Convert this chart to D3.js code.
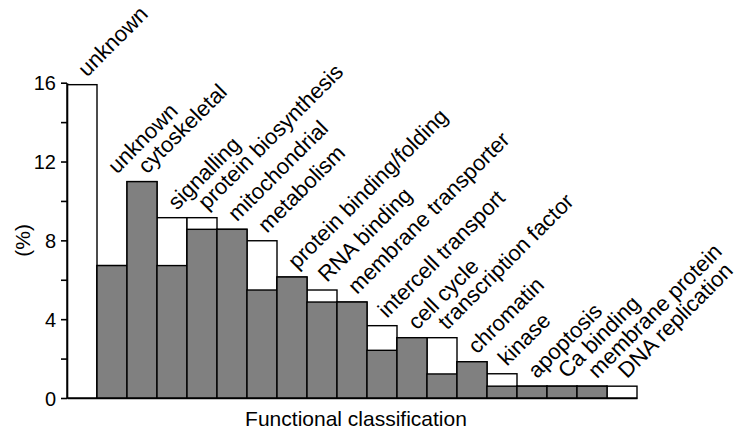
<!DOCTYPE html>
<html>
<head>
<meta charset="utf-8">
<script src="https://cdn.jsdelivr.net/npm/d3@7"></script>
<style>
  html, body { margin: 0; padding: 0; background: #fff; }
  svg { display: block; }
  text { font-family: "Liberation Sans", Arial, Helvetica, sans-serif; fill: #000; }
</style>
</head>
<body>
<svg id="chart" width="744" height="429"></svg>
<script>
// ---- data ----
const categories = ["unknown", "unknown", "cytoskeletal", "signalling", "protein biosynthesis",
  "mitochondrial", "metabolism", "protein binding/folding", "RNA binding", "membrane transporter",
  "intercell transport", "cell cycle", "transcription factor", "chromatin", "kinase",
  "apoptosis", "Ca binding", "membrane protein", "DNA replication"];
// white bars (total)
const totalValues = [15.9, 6.72, 10.98, 9.15, 9.15, 8.56, 7.98, 6.14, 5.48, 4.87,
  3.67, 3.06, 3.06, 1.84, 1.23, 0.6, 0.6, 0.6, 0.6];
// grey bars (subset)
const greyValues = [0, 6.72, 10.98, 6.72, 8.56, 8.56, 5.48, 6.14, 4.87, 4.87,
  2.42, 3.06, 1.22, 1.84, 0.6, 0.6, 0.6, 0.6, 0];
const yMajorTicks = [0, 4, 8, 12, 16];
const yMinorTicks = [2, 6, 10, 14];
const yLabel = "(%)";
const xLabel = "Functional classification";

// ---- layout ----
const svg = d3.select("#chart");
const mLeft = 67, mRight = 637, mTop = 82.7, mBottom = 398;

const x = d3.scaleBand().domain(d3.range(categories.length)).range([mLeft, mRight]).padding(0);
const y = d3.scaleLinear().domain([0, 16]).range([mBottom, mTop]);

// white (total) bars
svg.append("g").selectAll("rect").data(totalValues).join("rect")
  .attr("x", (d, i) => x(i))
  .attr("width", x.bandwidth())
  .attr("y", d => y(d))
  .attr("height", d => y(0) - y(d))
  .attr("fill", "#fff")
  .attr("stroke", "#000")
  .attr("stroke-width", 1.4);

// grey bars
svg.append("g").selectAll("rect").data(greyValues.map((v, i) => ({v, i})).filter(d => d.v > 0)).join("rect")
  .attr("x", d => x(d.i))
  .attr("width", x.bandwidth())
  .attr("y", d => y(d.v))
  .attr("height", d => y(0) - y(d.v))
  .attr("fill", "#808080")
  .attr("stroke", "#000")
  .attr("stroke-width", 1.4);

// y axis (major with labels)
const yAxisMajor = svg.append("g")
  .attr("transform", `translate(${mLeft},0)`)
  .call(d3.axisLeft(y).tickValues(yMajorTicks).tickSize(6).tickSizeOuter(0).tickPadding(5).tickFormat(d3.format("d")));
yAxisMajor.selectAll("text").style("font-size", "20px").attr("dy", "0.36em");
// y axis minor ticks
const yAxisMinor = svg.append("g")
  .attr("transform", `translate(${mLeft},0)`)
  .call(d3.axisLeft(y).tickValues(yMinorTicks).tickSize(6).tickSizeOuter(0).tickFormat(""));
yAxisMinor.select(".domain").remove();
svg.selectAll(".domain, .tick line").attr("stroke", "#000").attr("stroke-width", 1.6);

// x axis baseline
const xAxis = svg.append("g")
  .attr("transform", `translate(0,${mBottom})`)
  .call(d3.axisBottom(x).tickValues([]).tickSizeOuter(0));
xAxis.select(".domain").attr("stroke", "#000").attr("stroke-width", 1.6);

// category labels, rotated
svg.append("g").selectAll("text").data(categories).join("text")
  .attr("transform", (d, i) => {
    const h = Math.max(totalValues[i], i + 1 < totalValues.length ? totalValues[i + 1] : 0);
    const cx = x(i) + x.bandwidth() / 2 + 5;
    const cy = y(h) - 7;
    return `translate(${cx},${cy}) rotate(-45)`;
  })
  .attr("text-anchor", "start")
  .style("font-size", "22px")
  .text(d => d);

// axis titles
svg.append("text")
  .attr("x", 356).attr("y", 426)
  .attr("text-anchor", "middle")
  .style("font-size", "21px")
  .text(xLabel);

svg.append("text")
  .attr("transform", `translate(30,${(mTop + mBottom) / 2}) rotate(-90)`)
  .attr("text-anchor", "middle")
  .style("font-size", "21px")
  .text(yLabel);
</script>
</body>
</html>
